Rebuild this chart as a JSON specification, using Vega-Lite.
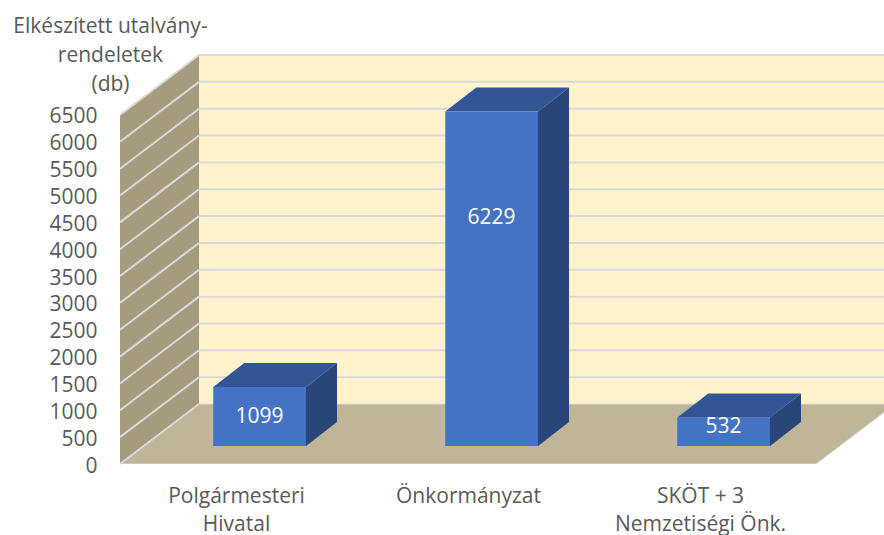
{"$schema":"https://vega.github.io/schema/vega-lite/v6.json","width":764,"height":409,"autosize":{"type":"none"},"padding":{"left":120,"top":55,"right":0,"bottom":71},"background":"#ffffff","view":{"stroke":null},"config":{"font":"Open Sans","axis":{"labelOverlap":false,"labelSeparation":0,"labelBound":false}},"datasets":{"bars":[{"category":"Polgármesteri Hivatal","value":1099},{"category":"Önkormányzat","value":6229},{"category":"SKÖT + 3 Nemzetiségi Önk.","value":532}],"ticks":[{"tick":0},{"tick":500},{"tick":1000},{"tick":1500},{"tick":2000},{"tick":2500},{"tick":3000},{"tick":3500},{"tick":4000},{"tick":4500},{"tick":5000},{"tick":5500},{"tick":6000},{"tick":6500}],"depth":[{"edge":0},{"edge":1}]},"layer":[{"data":{"name":"depth"},"transform":[{"calculate":"datum.edge*0.3405","as":"px"},{"calculate":"datum.edge*1117","as":"lo"},{"calculate":"datum.edge*1117+6500","as":"hi"}],"mark":{"type":"area","orient":"vertical","fill":"#A59C80"},"encoding":{"x":{"field":"px","type":"quantitative","scale":{"domain":[0,3.293],"nice":false,"zero":false},"axis":{"title":null,"values":[0.5,1.5,2.5],"domain":false,"ticks":false,"grid":false,"labelFontSize":21,"labelColor":"#595959","labelPadding":21,"labelLineHeight":28,"labelExpr":"datum.value<1?['Polgármesteri','Hivatal']:datum.value<2?'Önkormányzat':['SKÖT + 3','Nemzetiségi Önk.']"}},"y":{"field":"hi","type":"quantitative","stack":null,"scale":{"domain":[0,7617],"nice":false,"zero":false},"axis":{"title":["Elkészített utalvány-","rendeletek","(db)"],"titleAngle":0,"titleAlign":"center","titleBaseline":"alphabetic","titleX":-10,"titleY":-23,"titleFontSize":21,"titleFontWeight":"normal","titleColor":"#595959","titleLineHeight":29,"values":[0,500,1000,1500,2000,2500,3000,3500,4000,4500,5000,5500,6000,6500],"tickCount":14,"format":"d","labelOverlap":false,"domain":false,"ticks":false,"grid":false,"labelFontSize":21,"labelColor":"#595959","labelPadding":23,"labelOffset":2}},"y2":{"field":"lo"}}},{"data":{"name":"depth"},"transform":[{"filter":"datum.edge==1"}],"mark":{"type":"rect","fill":"#FFF2CC"},"encoding":{"x":{"datum":0.3405},"x2":{"datum":3.293},"y":{"datum":1117},"y2":{"datum":7617}}},{"data":{"name":"depth"},"transform":[{"calculate":"datum.edge*0.3405","as":"left"},{"calculate":"3+datum.edge*0.3405","as":"right"},{"calculate":"datum.edge*1117","as":"lo"}],"mark":{"type":"area","orient":"horizontal","fill":"#BFB598","stroke":"#D9D9D9","strokeWidth":1,"clip":true},"encoding":{"y":{"field":"lo","type":"quantitative"},"x":{"field":"left","type":"quantitative","stack":null},"x2":{"field":"right"}}},{"data":{"name":"ticks"},"transform":[{"calculate":"datum.tick+1117","as":"back"},{"filter":"datum.tick>0"}],"mark":{"type":"rule","stroke":"#D9D9D9","strokeWidth":2},"encoding":{"x":{"datum":0.3405},"x2":{"datum":3.293},"y":{"field":"back","type":"quantitative"}}},{"data":{"name":"ticks"},"transform":[{"calculate":"datum.tick+1117","as":"back"}],"mark":{"type":"rule","stroke":"#D9D9D9","strokeWidth":2},"encoding":{"x":{"datum":0},"x2":{"datum":0.3405},"y":{"field":"tick","type":"quantitative"},"y2":{"field":"back"}}},{"data":{"name":"bars"},"transform":[{"calculate":"indexof(['Polgármesteri Hivatal','Önkormányzat','SKÖT + 3 Nemzetiségi Önk.'],datum.category)","as":"i"},{"calculate":"[0,1]","as":"edge"},{"flatten":["edge"]},{"calculate":"datum.i+0.8017+datum.edge*0.1336","as":"px"},{"calculate":"335+datum.edge*447","as":"lo"},{"calculate":"datum.lo+datum.value","as":"hi"}],"mark":{"type":"area","orient":"vertical","fill":"#2A4679"},"encoding":{"detail":{"field":"category"},"x":{"field":"px","type":"quantitative"},"y":{"field":"hi","type":"quantitative","stack":null},"y2":{"field":"lo"}}},{"data":{"name":"bars"},"transform":[{"calculate":"indexof(['Polgármesteri Hivatal','Önkormányzat','SKÖT + 3 Nemzetiségi Önk.'],datum.category)","as":"i"},{"calculate":"[0,1]","as":"edge"},{"flatten":["edge"]},{"calculate":"datum.i+0.402+datum.edge*0.1336","as":"left"},{"calculate":"datum.i+0.8017+datum.edge*0.1336","as":"right"},{"calculate":"335+datum.value+datum.edge*447","as":"top"}],"mark":{"type":"area","orient":"horizontal","fill":"#325695"},"encoding":{"detail":{"field":"category"},"y":{"field":"top","type":"quantitative"},"x":{"field":"left","type":"quantitative","stack":null},"x2":{"field":"right"}}},{"data":{"name":"bars"},"transform":[{"calculate":"indexof(['Polgármesteri Hivatal','Önkormányzat','SKÖT + 3 Nemzetiségi Önk.'],datum.category)","as":"i"},{"calculate":"datum.i+0.402","as":"left"},{"calculate":"datum.i+0.8017","as":"right"},{"calculate":"335+datum.value","as":"top"}],"mark":{"type":"rect","fill":"#4472C4"},"encoding":{"x":{"field":"left","type":"quantitative"},"x2":{"field":"right"},"y":{"field":"top","type":"quantitative"},"y2":{"datum":335}}},{"data":{"name":"bars"},"transform":[{"calculate":"indexof(['Polgármesteri Hivatal','Önkormányzat','SKÖT + 3 Nemzetiségi Önk.'],datum.category)+0.6017","as":"cx"},{"calculate":"335+(datum.value>5000?datum.value*0.688:230+datum.value*0.31)","as":"cy"}],"mark":{"type":"text","color":"#ffffff","fontSize":21,"baseline":"middle","align":"center","dy":2},"encoding":{"x":{"field":"cx","type":"quantitative"},"y":{"field":"cy","type":"quantitative"},"text":{"field":"value","type":"quantitative","format":"d"}}}]}
